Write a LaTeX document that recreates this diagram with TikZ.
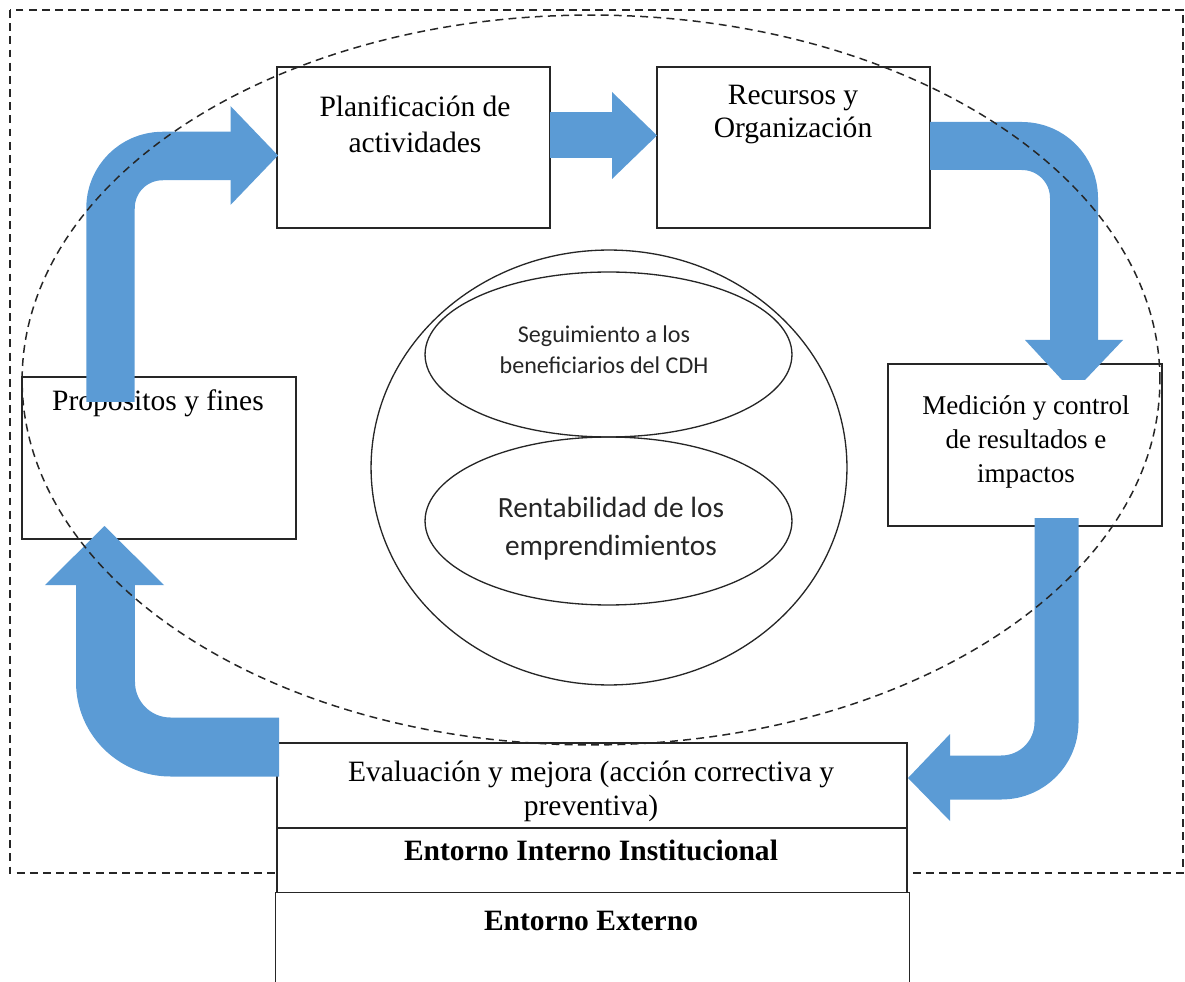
\documentclass[tikz,border=0pt]{standalone}
\usepackage{fontspec}
\setmainfont{Liberation Serif}
\newfontfamily\calfont{Carlito}
\usetikzlibrary{shapes.geometric}
\definecolor{arrowblue}{RGB}{91,155,213}
\begin{document}
\begin{tikzpicture}[x=0.02cm,y=-0.02cm,
  boxline/.style={draw=black!85, line width=0.8pt},
  box/.style={boxline, rectangle, inner sep=0pt},
  dashline/.style={draw=black!85, line width=0.85pt, dash pattern=on 4.5pt off 3pt},
  txt/.style={anchor=base, inner sep=0pt, font=\fontsize{16.8}{20}\selectfont},
  txtm/.style={anchor=base, inner sep=0pt, font=\fontsize{15.4}{19}\selectfont},
  txtb/.style={anchor=base, inner sep=0pt, font=\fontsize{16.8}{20}\selectfont\bfseries},
  txtc/.style={anchor=base, inner sep=0pt, font=\calfont\fontsize{13.7}{17}\selectfont, text=black!85},
  txtC/.style={anchor=base, inner sep=0pt, font=\calfont\fontsize{16.7}{21}\selectfont, text=black!85},
  oval/.style={draw=black!85, line width=0.75pt, ellipse, inner sep=0pt},
  shaft/.style={draw=arrowblue, line cap=butt, line join=round},
  head/.style={fill=arrowblue}]
\useasboundingbox (0,0) rectangle (1185,982);

% outer dashed frame
\draw[dashline] (10,10) rectangle (1183,873);

% bottom stacked boxes
\node[box, fill=white, minimum width=12.6cm, minimum height=1.7cm] (eval) at (592,785.5) {};
\node[box, fill=white, minimum width=12.6cm, minimum height=1.3cm] (inte) at (592,860.5) {};
\node[fill=white, inner sep=0pt, minimum width=12.67cm, minimum height=1.78cm] (exte) at (592.25,937.5) {};
\draw[boxline] (exte.south west) -- (exte.north west) -- (exte.north east) -- (exte.south east);

% top boxes
\node[box, minimum width=5.46cm, minimum height=3.22cm] (plan) at (413.5,147.5) {};
\node[box, minimum width=5.46cm, minimum height=3.22cm] (recu) at (793.5,147.5) {};
\node[box, minimum width=5.48cm, minimum height=3.24cm] (prop) at (159,458) {};
\node[box, minimum width=5.48cm, minimum height=3.24cm] (medi) at (1025,445) {};

% texts
\node[txt] (planA) at (415,117) {Planificación de};
\node[txt] (planB) at (415,153) {actividades};
\node[txt] (recuA) at (793,105) {Recursos y};
\node[txt] (recuB) at (793,138) {Organización};
\node[txt] (propA) at (158,411) {Propositos y fines};
\node[txtm] (mediA) at (1026,415) {Medición y control};
\node[txtm] (mediB) at (1026,448.5) {de resultados e};
\node[txtm] (mediC) at (1026,482) {impactos};
\node[txt] (evalA) at (591,781) {Evaluación y mejora (acción correctiva y};
\node[txt] (evalB) at (591,815) {preventiva)};
\node[txtb] (inteA) at (591,860) {Entorno Interno Institucional};
\node[txtb] (exteA) at (591,930) {Entorno Externo};

% central circle and ovals
\node[oval, minimum width=9.52cm, minimum height=8.7cm] (circ) at (609,467.5) {};
\node[oval, minimum width=7.34cm, minimum height=3.3cm] (ovA) at (608.5,354.5) {};
\node[oval, minimum width=7.34cm, minimum height=3.36cm] (ovB) at (608.5,521) {};
\node[txtc] (segA) at (604,343) {Seguimiento a los};
\node[txtc] (segB) at (604,374) {beneficiarios del CDH};
\node[txtC] (renA) at (611,517) {Rentabilidad de los};
\node[txtC] (renB) at (611,555) {emprendimientos};

% blue block arrows
% 1: Propositos -> Planificacion
\coordinate (a1s) at (110.5,402);
\coordinate (a1c) at (110.5,156);
\coordinate (a1e) at (231,156);
\draw[shaft, line width=0.97cm, rounded corners=1.04cm] (a1s) -- (a1c) -- (a1e);
\fill[head] (230.5,106) -- (278,155.5) -- (230.5,205) -- cycle;

% 2: Planificacion -> Recursos
\fill[head] (550,112) rectangle (613,158);
\fill[head] (612,92) -- (657,135.5) -- (612,179) -- cycle;

% 3: Recursos -> Medicion
\coordinate (a3s) at (930,146);
\coordinate (a3c) at (1074,146);
\coordinate (a3e) at (1074,341);
\draw[shaft, line width=0.96cm, rounded corners=1.04cm] (a3s) -- (a3c) -- (a3e);
\fill[head] (1025,340) -- (1123,340) -- (1085,380) -- (1062,380) -- cycle;

% 4: Medicion -> Evaluacion
\coordinate (a4s) at (1056.5,518);
\coordinate (a4c) at (1056.5,777.5);
\coordinate (a4e) at (949,777.5);
\draw[shaft, line width=0.88cm, rounded corners=1.1cm] (a4s) -- (a4c) -- (a4e);
\fill[head] (950,734) -- (908,778) -- (950,821) -- cycle;

% 5: Evaluacion -> Propositos
\coordinate (a5s) at (279,747);
\coordinate (a5c) at (105.5,747);
\coordinate (a5e) at (105.5,584);
\draw[shaft, line width=1.18cm, rounded corners=1.3cm] (a5s) -- (a5c) -- (a5e);
\fill[head] (45,585) -- (104.5,526) -- (164,585) -- cycle;

% dashed big ellipse
\draw[dashline] (591,380) ellipse [x radius=11.38cm, y radius=7.3cm];
\end{tikzpicture}
\end{document}
